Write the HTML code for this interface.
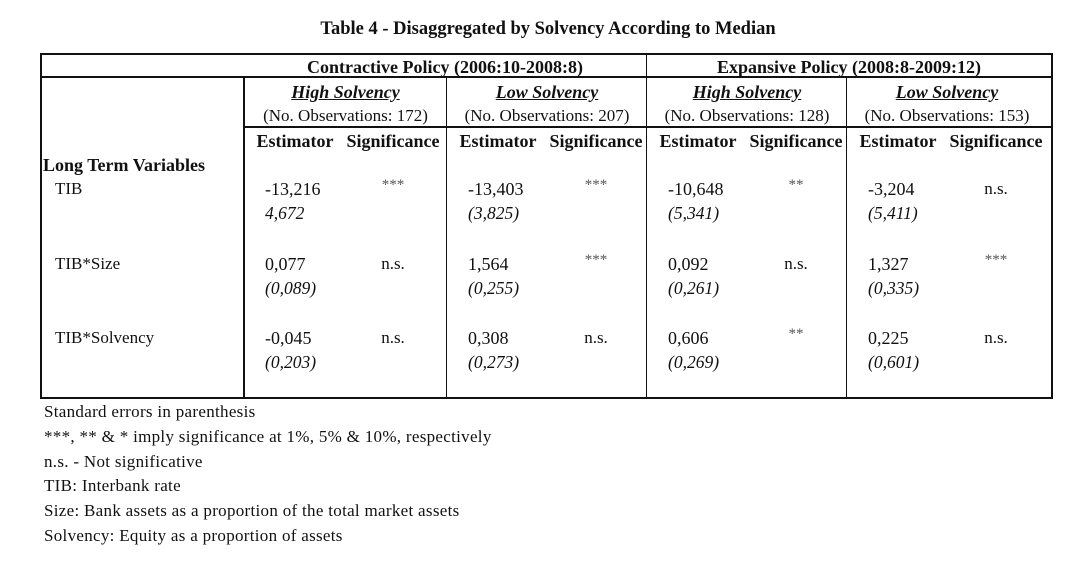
<!DOCTYPE html>
<html><head><meta charset="utf-8"><style>
body{margin:0;background:#fff;}
#c{position:relative;width:1083px;height:566px;font-family:"Liberation Serif",serif;font-size:17px;color:#111;overflow:hidden}
.t{position:absolute;white-space:nowrap;line-height:1;}
.b{font-weight:bold}
.i{font-style:italic}
.ctr{transform:translateX(-50%)}
.ln{position:absolute;background:#111}
.fn{font-size:17px;letter-spacing:0.3px}
</style></head><body>
<div id="c">
<div class="t b ctr" style="left:548px;top:20px;font-size:18.5px">Table 4 - Disaggregated by Solvency According to Median</div>
<div class="ln" style="left:40px;top:53px;width:1013px;height:2px"></div>
<div class="ln" style="left:40px;top:397px;width:1013px;height:2px"></div>
<div class="ln" style="left:40px;top:53px;width:2px;height:346px"></div>
<div class="ln" style="left:1051px;top:53px;width:2px;height:346px"></div>
<div class="ln" style="left:40px;top:76px;width:1013px;height:2px"></div>
<div class="ln" style="left:243px;top:126px;width:810px;height:2px"></div>
<div class="ln" style="left:243px;top:76px;width:2px;height:322px"></div>
<div class="ln" style="left:446px;top:76px;width:1px;height:322px"></div>
<div class="ln" style="left:646px;top:53px;width:1px;height:345px"></div>
<div class="ln" style="left:846px;top:76px;width:1px;height:322px"></div>

<div class="t b ctr" style="left:445px;top:58px;font-size:18px">Contractive Policy (2006:10-2008:8)</div>
<div class="t b ctr" style="left:849px;top:58px;font-size:18px">Expansive Policy (2008:8-2009:12)</div>

<div class="t b" style="left:43px;top:156px;font-size:18px">Long Term Variables</div>
<div class="t" style="left:55px;top:180px">TIB</div>
<div class="t" style="left:55px;top:255px">TIB*Size</div>
<div class="t" style="left:55px;top:329px">TIB*Solvency</div>

<div class="t fn" style="left:44px;top:403px">Standard errors in parenthesis</div>
<div class="t fn" style="left:44px;top:428px">***, ** &amp; * imply significance at 1%, 5% &amp; 10%, respectively</div>
<div class="t fn" style="left:44px;top:453px">n.s. - Not significative</div>
<div class="t fn" style="left:44px;top:477px">TIB: Interbank rate</div>
<div class="t fn" style="left:44px;top:502px">Size: Bank assets as a proportion of the total market assets</div>
<div class="t fn" style="left:44px;top:527px">Solvency: Equity as a proportion of assets</div>
</div>
<script>
const groupLeft=[243,446,646,846];
const groupTitle=["High Solvency","Low Solvency","High Solvency","Low Solvency"];
const groupObs=[172,207,128,153];
const estimates=[["-13,216","0,077","-0,045"],["-13,403","1,564","0,308"],["-10,648","0,092","0,606"],["-3,204","1,327","0,225"]];
const stdErrors=[["4,672","(0,089)","(0,203)"],["(3,825)","(0,255)","(0,273)"],["(5,341)","(0,261)","(0,269)"],["(5,411)","(0,335)","(0,601)"]];
const signif=[["***","n.s.","n.s."],["***","***","n.s."],["**","n.s.","**"],["n.s.","***","n.s."]];
const rowTop=[180,255,329];
const c=document.getElementById('c');
function mk(txt,cls,left,top,extra){const d=document.createElement('div');d.className='t '+cls;d.textContent=txt;d.style.left=left+'px';d.style.top=top+'px';if(extra)d.style.cssText+=extra;c.appendChild(d);return d;}
groupLeft.forEach((gx,g)=>{
  const w=(g===0?203:200);const mid=gx+w/2+1;
  let e=mk(groupTitle[g],'b i ctr',mid,83,'text-decoration:underline;font-size:18px');
  
  
  e=mk('(No. Observations: '+groupObs[g]+')','ctr',mid,107);
  
  
  e=mk('Estimator','b ctr',gx+52,132,'font-size:18px');
  
  
  e=mk('Significance','b ctr',gx+150,132,'font-size:18px');
  
  
  rowTop.forEach((ty,r)=>{
    let a=mk(estimates[g][r],'',gx+22,ty,'font-size:18px');
    
    
    a=mk(stdErrors[g][r],'i',gx+22,ty+25,'font-size:17.5px');
    
    
    const s=signif[g][r];
    a=mk(s,'ctr',gx+150,s==='n.s.'?ty:ty-2,s==='n.s.'?'':'color:#555;font-size:15px');
    
    
  });
});
</script>
</body></html>
